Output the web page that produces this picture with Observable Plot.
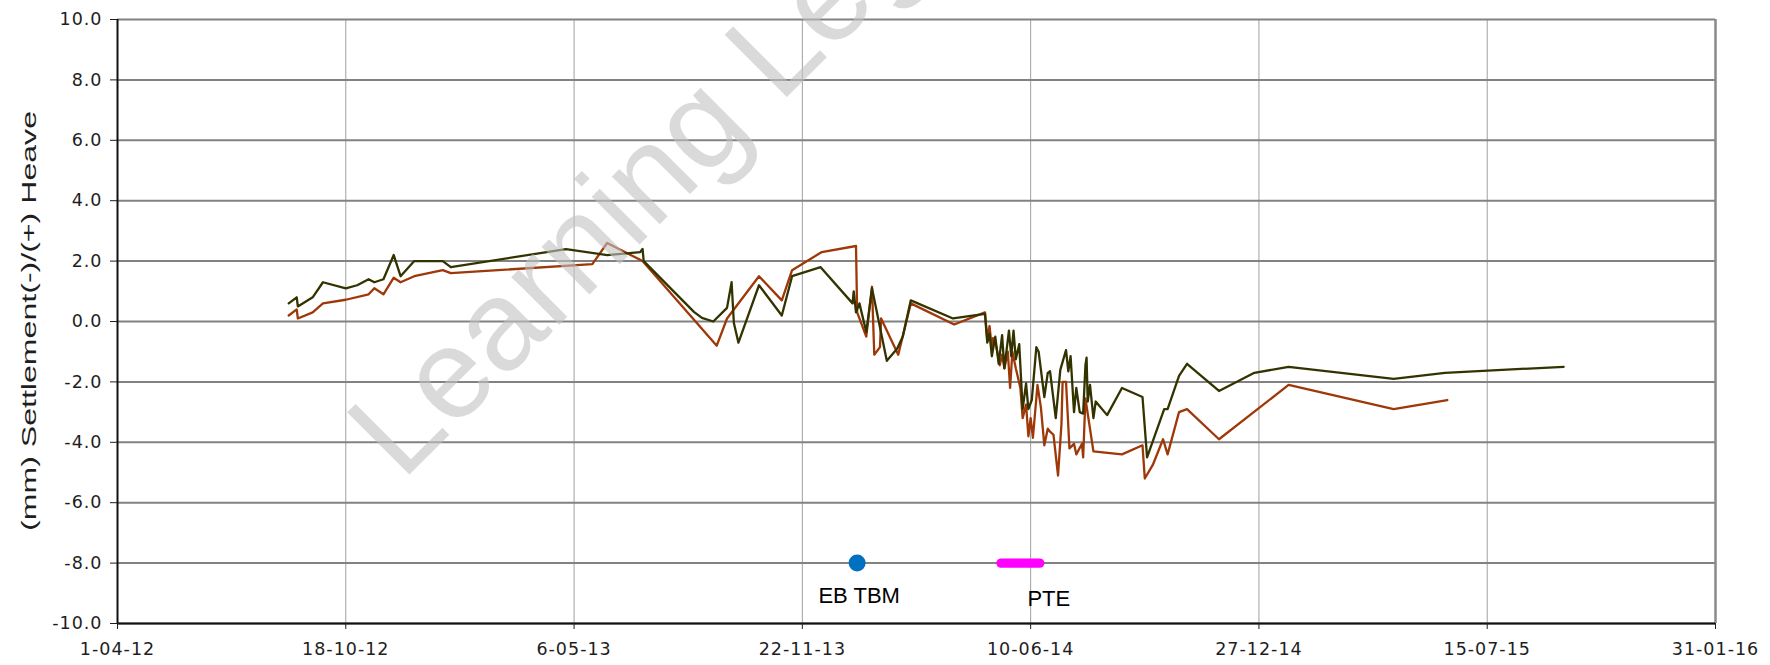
<!DOCTYPE html>
<html><head><meta charset="utf-8">
<script src="https://cdn.jsdelivr.net/npm/d3@7"></script>
<script src="https://cdn.jsdelivr.net/npm/@observablehq/plot@0.6"></script>
<style>
html,body{margin:0;padding:0;background:#fff;}
#chart svg{display:block;}
</style></head><body><div id="chart"></div>
<script>
// ---- data ----
const greenDates = ["2012-08-29","2012-09-05","2012-09-06","2012-09-19","2012-09-28","2012-10-18","2012-10-28","2012-11-07","2012-11-12","2012-11-20","2012-11-29","2012-12-05","2012-12-17","2013-01-11","2013-01-18","2013-04-29","2013-06-04","2013-07-03","2013-07-05","2013-07-06","2013-08-19","2013-08-26","2013-09-05","2013-09-17","2013-09-21","2013-09-23","2013-09-27","2013-10-15","2013-11-04","2013-11-13","2013-12-08","2014-01-05","2014-01-06","2014-01-08","2014-01-11","2014-01-17","2014-01-22","2014-02-04","2014-02-13","2014-02-18","2014-02-25","2014-04-03","2014-05-01","2014-05-03","2014-05-05","2014-05-07","2014-05-10","2014-05-13","2014-05-16","2014-05-18","2014-05-22","2014-05-24","2014-05-26","2014-05-28","2014-05-31","2014-06-03","2014-06-06","2014-06-08","2014-06-11","2014-06-15","2014-06-17","2014-06-22","2014-06-25","2014-06-27","2014-07-02","2014-07-06","2014-07-11","2014-07-13","2014-07-15","2014-07-18","2014-07-20","2014-07-23","2014-07-26","2014-07-28","2014-07-29","2014-07-30","2014-08-01","2014-08-04","2014-08-06","2014-08-16","2014-08-29","2014-09-16","2014-09-20","2014-10-05","2014-10-08","2014-10-18","2014-10-25","2014-11-22","2014-12-23","2015-01-22","2015-04-24","2015-06-08","2015-09-20"];
const greenValues = [0.6,0.8,0.5,0.8,1.3,1.1,1.2,1.4,1.3,1.4,2.2,1.5,2.0,2.0,1.8,2.4,2.2,2.3,2.4,2.0,0.32,0.12,0.0,0.45,1.3,-0.05,-0.7,1.2,0.2,1.5,1.8,0.6,1.0,0.3,0.6,-0.35,1.1,-1.3,-0.9,-0.5,0.7,0.1,0.25,-0.7,-0.4,-1.15,-0.5,-1.4,-0.45,-1.55,-0.3,-1.15,-0.3,-1.25,-0.75,-2.9,-2.05,-2.9,-2.6,-0.85,-1.0,-2.5,-1.7,-1.65,-3.2,-1.6,-0.95,-1.65,-1.15,-3.0,-2.2,-3.0,-3.05,-1.45,-1.2,-2.65,-2.1,-3.2,-2.65,-3.1,-2.2,-2.5,-4.5,-2.9,-2.9,-1.8,-1.4,-2.3,-1.7,-1.5,-1.9,-1.7,-1.5];

const orangeDates = ["2012-08-29","2012-09-05","2012-09-06","2012-09-19","2012-09-28","2012-10-18","2012-11-07","2012-11-12","2012-11-20","2012-11-29","2012-12-05","2012-12-17","2013-01-11","2013-01-18","2013-05-22","2013-06-04","2013-07-05","2013-09-08","2013-09-17","2013-10-15","2013-11-04","2013-11-13","2013-12-09","2014-01-08","2014-01-09","2014-01-17","2014-01-22","2014-01-24","2014-01-29","2014-01-30","2014-02-14","2014-02-25","2014-04-04","2014-05-01","2014-05-03","2014-05-05","2014-05-07","2014-05-08","2014-05-11","2014-05-14","2014-05-16","2014-05-18","2014-05-21","2014-05-23","2014-05-25","2014-05-28","2014-06-01","2014-06-03","2014-06-06","2014-06-08","2014-06-10","2014-06-12","2014-06-16","2014-06-19","2014-06-22","2014-06-25","2014-06-27","2014-06-30","2014-07-04","2014-07-07","2014-07-08","2014-07-11","2014-07-14","2014-07-18","2014-07-20","2014-07-25","2014-07-26","2014-07-28","2014-08-04","2014-08-29","2014-09-16","2014-09-18","2014-09-25","2014-10-04","2014-10-08","2014-10-18","2014-10-25","2014-11-22","2015-01-22","2015-04-24","2015-06-10"];
const orangeValues = [0.2,0.4,0.1,0.3,0.6,0.72,0.9,1.1,0.9,1.45,1.3,1.5,1.7,1.6,1.9,2.6,2.0,-0.8,0.1,1.5,0.7,1.7,2.3,2.5,0.3,-0.5,1.15,-1.1,-0.85,0.1,-1.1,0.6,-0.1,0.3,-0.6,-0.15,-0.9,-0.55,-0.85,-1.45,-1.1,-1.55,-1.0,-2.2,-1.0,-1.55,-2.2,-3.2,-2.75,-3.8,-3.2,-3.85,-2.1,-2.85,-4.1,-3.55,-3.65,-3.75,-5.1,-3.4,-2.0,-2.0,-4.2,-4.05,-4.4,-4.05,-4.5,-2.55,-4.3,-4.4,-4.1,-5.2,-4.75,-3.9,-4.4,-3.0,-2.9,-3.9,-2.1,-2.9,-2.6];

const xTickDates = ["2012-04-01","2012-10-18","2013-05-06","2013-11-22","2014-06-10","2014-12-27","2015-07-15","2016-01-31"];
const yTickValues = [-10,-8,-6,-4,-2,0,2,4,6,8,10];

const tbmLabel = "EB TBM";
const tbmDate = "2014-01-09";
const tbmValue = -8;
const pteLabel = "PTE";
const pteDates = ["2014-05-15","2014-06-18"];
const pteValue = -8;

const yTitle = "(mm) Settlement(-)/(+) Heave";
const watermarkText = "Learning Legacy";

// ---- build ----
const parse = d3.utcParse("%Y-%m-%d");
const green = greenDates.map((d, i) => ({date: parse(d), value: greenValues[i]}));
const orange = orangeDates.map((d, i) => ({date: parse(d), value: orangeValues[i]}));
const xTicks = xTickDates.map(parse);
const xDomain = [xTicks[0], xTicks[xTicks.length - 1]];
const tbm = [{date: parse(tbmDate), value: tbmValue, label: tbmLabel}];
const pte = pteDates.map(d => ({date: parse(d), value: pteValue}));
const pteText = [{date: parse(pteDates[1]), value: pteValue, label: pteLabel}];

const W = 1770, H = 665, mL = 117, mR = 55, mT = 19, mB = 42;

const svg = Plot.plot({
  width: W, height: H,
  marginLeft: mL, marginRight: mR, marginTop: mT, marginBottom: mB,
  style: {fontFamily: "'DejaVu Sans', sans-serif", fontSize: "17.5px", color: "#1e1e1e", background: "#fff", letterSpacing: "1px"},
  x: {type: "utc", domain: xDomain},
  y: {domain: [yTickValues[0], yTickValues[yTickValues.length - 1]]},
  marks: [
    Plot.gridX(xTicks.slice(1, -1), {stroke: "#a0a0a0", strokeOpacity: 1, strokeWidth: 1}),
    Plot.gridY(yTickValues, {stroke: "#828282", strokeOpacity: 1, strokeWidth: 2}),
    Plot.ruleX([xDomain[1]], {stroke: "#8a8a8a", strokeWidth: 2.5}),
    Plot.ruleX([xDomain[0]], {stroke: "#111", strokeWidth: 2}),
    Plot.ruleY([yTickValues[0]], {stroke: "#111", strokeWidth: 2}),
    Plot.axisX({ticks: xTicks, tickFormat: d3.utcFormat("%-d-%m-%y"), tickSize: 6, tickPadding: 13, label: null}),
    Plot.axisY({ticks: yTickValues, tickFormat: d => d.toFixed(1), tickSize: 7, tickPadding: 8, label: null}),
    Plot.line(orange, {x: "date", y: "value", stroke: "#9e3808", strokeWidth: 2.3, strokeLinejoin: "round"}),
    Plot.line(green, {x: "date", y: "value", stroke: "#333300", strokeWidth: 2.3, strokeLinejoin: "round"}),
    Plot.line(pte, {x: "date", y: "value", stroke: "#ff00ff", strokeWidth: 9.3, strokeLinecap: "round"}),
    Plot.dot(tbm, {x: "date", y: "value", r: 8.5, fill: "#0070c0", stroke: null}),
    Plot.text(tbm, {x: "date", y: "value", text: "label", dy: 33, dx: 2, fontFamily: "'Liberation Sans', Arial, sans-serif", fontSize: 22, fill: "#000"}),
    Plot.text(pteText, {x: "date", y: "value", text: "label", dy: 36, dx: 9, fontFamily: "'Liberation Sans', Arial, sans-serif", fontSize: 22, fill: "#000"})
  ]
});

const s = d3.select(svg);
s.selectAll('g[aria-label="text"] text').attr("letter-spacing", "0");

// y-axis title
s.append("text")
  .attr("transform", `translate(36,${(mT + (H - mB)) / 2}) rotate(-90)`)
  .attr("text-anchor", "middle")
  .attr("font-family", "'Liberation Sans', Arial, sans-serif")
  .attr("font-size", 20)
  .attr("letter-spacing", "0")
  .attr("fill", "#1e1e1e")
  .attr("textLength", 420)
  .attr("lengthAdjust", "spacingAndGlyphs")
  .text(yTitle);

// watermark
s.append("text")
  .attr("transform", "translate(402,482) rotate(-45)")
  .attr("text-anchor", "start")
  .attr("font-family", "'Liberation Sans', Arial, sans-serif")
  .attr("font-size", 128)
  .attr("letter-spacing", "0")
  .attr("fill", "#c2c2c2")
  .attr("fill-opacity", 0.6)
  .text(watermarkText);

document.getElementById("chart").appendChild(svg);
</script>
</body></html>
